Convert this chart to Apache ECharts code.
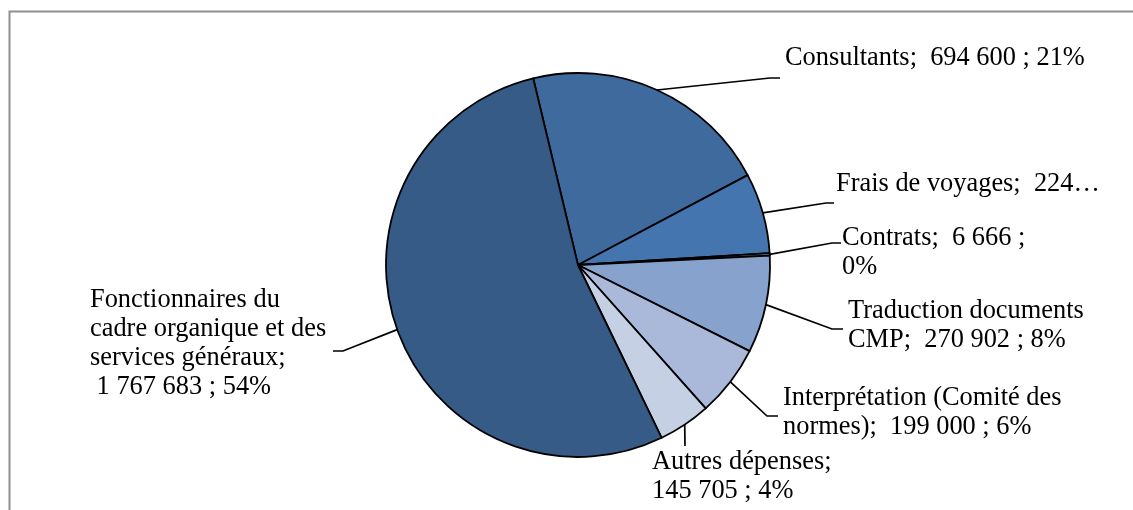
<!DOCTYPE html>
<html>
<head>
<meta charset="utf-8">
<script src="https://cdn.jsdelivr.net/npm/echarts@6/dist/echarts.min.js"></script>
<style>
  html, body { margin: 0; padding: 0; background: #ffffff; }
  #chart { width: 1133px; height: 510px; }
</style>
</head>
<body>
<div id="chart"></div>
<script>
// ---- data ----
const categories = [
  'Consultants',
  'Frais de voyages',
  'Contrats',
  'Traduction documents\nCMP',
  'Interprétation (Comité des\nnormes)',
  'Autres dépenses',
  'Fonctionnaires du\ncadre organique et des\nservices généraux'
];
const values = [694600, 224000, 6666, 270902, 199000, 145705, 1767683];
const percents = [21, 7, 0, 8, 6, 4, 54];

// ---- styling / layout ----
const colors = ['#3e6a9d', '#4575ae', '#5b86bd', '#87a2cc', '#aab9d9', '#c6d0e4', '#365b86'];
const afterName = ['  ', '  ', '  ', '  ', '  ', '\n', '\n '];
const beforePct = [' ', ' ', '\n', ' ', ' ', ' ', ' '];
const labelPos = [[785, 44], [836, 170], [842, 224], [848, 297], [783, 384], [652, 448], [90, 286]];
const labelElbows = [
  [[770, 78], [780, 78]],
  [[826, 203], [834, 203]],
  [[832, 243], [841, 243]],
  [[832, 329], [843, 329]],
  [[767, 416], [778, 416]],
  [[685, 446]],
  [[343, 351], [333, 351]]
];
const FONT = 'Liberation Serif, Times New Roman, serif';
const FS = 26.4;

function fmt(v) { return String(v).replace(/\B(?=(\d{3})+(?!\d))/g, ' '); }

// width that cuts the travel label right after the first digits (as in the picture)
const cv = document.createElement('canvas').getContext('2d');
cv.font = FS + 'px ' + FONT;
const fraisWidth = Math.ceil(cv.measureText('Frais de voyages;  224\u2026').width) + 1;

const data = categories.map((c, i) => {
  const item = { name: c, value: values[i], itemStyle: { color: colors[i] } };
  if (i === 1) {
    item.label = { width: fraisWidth, overflow: 'truncate', ellipsis: '\u2026' };
  }
  return item;
});

const chart = echarts.init(document.getElementById('chart'), null, { renderer: 'canvas' });
chart.setOption({
  animation: false,
  backgroundColor: '#ffffff',
  graphic: [{
    type: 'rect',
    shape: { x: 9.5, y: 11.5, width: 1200, height: 600 },
    style: { fill: 'none', stroke: '#8f8f8f', lineWidth: 2 },
    silent: true,
    z: 0
  }],
  series: [{
    type: 'pie',
    center: [578, 265],
    radius: 192,
    startAngle: 103.5,
    clockwise: true,
    avoidLabelOverlap: false,
    data: data,
    itemStyle: { borderColor: '#000000', borderWidth: 1.8 },
    emphasis: { disabled: true },
    label: {
      show: true,
      position: 'outside',
      color: '#000000',
      fontFamily: FONT,
      fontSize: FS,
      lineHeight: 29,
      formatter: function (p) {
        const i = p.dataIndex;
        return p.name + ';' + afterName[i] + fmt(p.value) + ' ;' + beforePct[i] + percents[i] + '%';
      }
    },
    labelLine: { show: true, smooth: false, lineStyle: { color: '#000000', width: 1.7 } },
    labelLayout: function (params) {
      const i = params.dataIndex;
      const pts = params.labelLinePoints;
      const out = { x: labelPos[i][0], y: labelPos[i][1], align: 'left', verticalAlign: 'top' };
      if (pts && pts.length) {
        out.labelLinePoints = [pts[0]].concat(labelElbows[i]);
      }
      return out;
    }
  }]
});
</script>
</body>
</html>
